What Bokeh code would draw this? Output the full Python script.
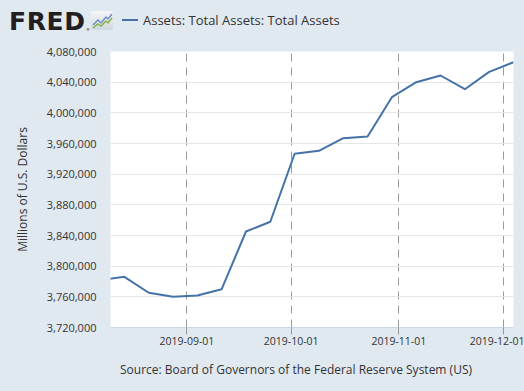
from datetime import datetime
from bokeh.plotting import figure
from bokeh.layouts import column
from bokeh.models import (Range1d, FixedTicker, DatetimeTickFormatter, NumeralTickFormatter, Div)
from bokeh.embed import file_html
from bokeh.resources import INLINE

# ---- data (weekly, Wednesday levels, millions of US$) ----
dates = ["2019-08-07", "2019-08-14", "2019-08-21", "2019-08-28", "2019-09-04", "2019-09-11",
         "2019-09-18", "2019-09-25", "2019-10-02", "2019-10-09", "2019-10-16", "2019-10-23",
         "2019-10-30", "2019-11-06", "2019-11-13", "2019-11-20", "2019-11-27", "2019-12-04"]
values = [3781800, 3786100, 3765300, 3760000, 3761700, 3770000,
          3845200, 3857900, 3946600, 3950500, 3966900, 3969100,
          4020400, 4040000, 4048700, 4030800, 4053500, 4066000]
x_tick_labels = ["2019-09-01", "2019-10-01", "2019-11-01", "2019-12-01"]
y_ticks = [3720000, 3760000, 3800000, 3840000, 3880000, 3920000, 3960000, 4000000, 4040000, 4080000]
series_name = "Assets: Total Assets: Total Assets"
y_title = "Millions of U.S. Dollars"
source_text = "Source: Board of Governors of the Federal Reserve System (US)"

xs = [datetime.strptime(d, "%Y-%m-%d") for d in dates]
tick_ms = [datetime.strptime(d, "%Y-%m-%d").timestamp() * 1000 for d in x_tick_labels]

BG = "#e1e9f0"
FONT = "Open Sans"
W = 524
HEAD_H = 40
FOOT_H = 36
FIG_H = 391 - HEAD_H - FOOT_H

p = figure(width=W, height=FIG_H, output_backend="svg", toolbar_location=None,
           x_axis_type="datetime",
           x_range=Range1d(datetime(2019, 8, 10), datetime(2019, 12, 4)),
           y_range=Range1d(3720000, 4080000),
           min_border_left=110, min_border_right=11, min_border_top=11, min_border_bottom=28,
           background_fill_color="white", border_fill_color=BG, outline_line_color=None)

p.line(xs, values, line_color="#4572a7", line_width=2)

# x axis
p.xaxis.ticker = FixedTicker(ticks=tick_ms)
fmt = "%Y-%m-%d"
p.xaxis.formatter = DatetimeTickFormatter(milliseconds=fmt, seconds=fmt, minsec=fmt, minutes=fmt,
                                          hourmin=fmt, hours=fmt, days=fmt, months=fmt, years=fmt)
p.xaxis.axis_line_color = "#ccd6eb"
p.xaxis.major_tick_line_color = "#999999"
p.xaxis.major_tick_out = 7
p.xaxis.major_tick_in = 0
p.xaxis.minor_tick_line_color = None
p.xaxis.major_label_standoff = 2
p.xaxis.major_label_text_font = FONT
p.xaxis.major_label_text_font_size = "10.5px"
p.xaxis.major_label_text_color = "#333333"

# y axis
p.yaxis.ticker = FixedTicker(ticks=y_ticks)
p.yaxis.formatter = NumeralTickFormatter(format="0,0")
p.yaxis.axis_line_color = None
p.yaxis.major_tick_line_color = None
p.yaxis.minor_tick_line_color = None
p.yaxis.major_tick_out = 0
p.yaxis.major_label_standoff = 14
p.yaxis.major_label_text_font = FONT
p.yaxis.major_label_text_font_size = "11px"
p.yaxis.major_label_text_color = "#333333"
p.yaxis.axis_label = y_title
p.yaxis.axis_label_text_font = FONT
p.yaxis.axis_label_text_font_size = "12px"
p.yaxis.axis_label_text_font_style = "normal"
p.yaxis.axis_label_text_color = "#333333"
p.yaxis.axis_label_standoff = 13

# grids
p.ygrid.grid_line_color = "#e6e6e6"
p.ygrid.grid_line_width = 1
p.xgrid.grid_line_color = "#9a9a9a"
p.xgrid.grid_line_dash = "8 6"
p.xgrid.grid_line_width = 1

icon_svg = (
    '<svg width="22" height="19" style="position:absolute;left:91px;top:11px">'
    '<defs><linearGradient id="g" x1="0" y1="0" x2="0" y2="1">'
    '<stop offset="0" stop-color="#f4f6f8"/><stop offset="1" stop-color="#cfd6dd"/></linearGradient></defs>'
    '<rect x="0" y="0" width="22" height="19" rx="2" fill="url(#g)"/>'
    '<polyline points="2,14 7,9 10,12 15,6 17,8 21,3" fill="none" stroke="#6d8fc4" stroke-width="1.5"/>'
    '<polyline points="2,17 7,13 10,15 15,10 17,12 21,7" fill="none" stroke="#86b04a" stroke-width="1.5"/>'
    '</svg>'
)

header_html = (
    f'<div style="position:relative;width:{W}px;height:{HEAD_H}px;background:{BG};overflow:hidden">'
    '<span style="position:absolute;left:9px;top:9px;font-family:\'DejaVu Sans\';font-weight:bold;'
    'font-size:25px;line-height:25px;letter-spacing:0.6px;color:#231f20;white-space:nowrap">FRED</span>'
    '<span style="position:absolute;left:86px;top:28px;font-family:\'DejaVu Sans\';font-size:4px;'
    'line-height:4px;color:#231f20">&#174;</span>'
    + icon_svg +
    '<div style="position:absolute;left:122px;top:19px;width:16px;height:2px;background:#4572a7"></div>'
    f'<span style="position:absolute;left:143px;top:12px;font-family:\'{FONT}\';font-size:13px;'
    f'line-height:16px;color:#333333;white-space:nowrap">{series_name}</span>'
    '</div>'
)
header = Div(text=header_html, width=W, height=HEAD_H, margin=0,
             styles={"background-color": BG})

footer_html = (
    f'<div style="position:relative;width:{W}px;height:{FOOT_H}px;background:{BG};overflow:hidden">'
    f'<span style="position:absolute;left:120px;top:7px;font-family:\'{FONT}\';font-size:12px;'
    f'line-height:16px;color:#333333;white-space:nowrap">{source_text}</span>'
    '</div>'
)
footer = Div(text=footer_html, width=W, height=FOOT_H, margin=0,
             styles={"background-color": BG})

layout = column(header, p, footer, spacing=0, margin=0,
                styles={"background-color": BG})

with open("out.html", "w") as f:
    f.write(file_html(layout, INLINE))
